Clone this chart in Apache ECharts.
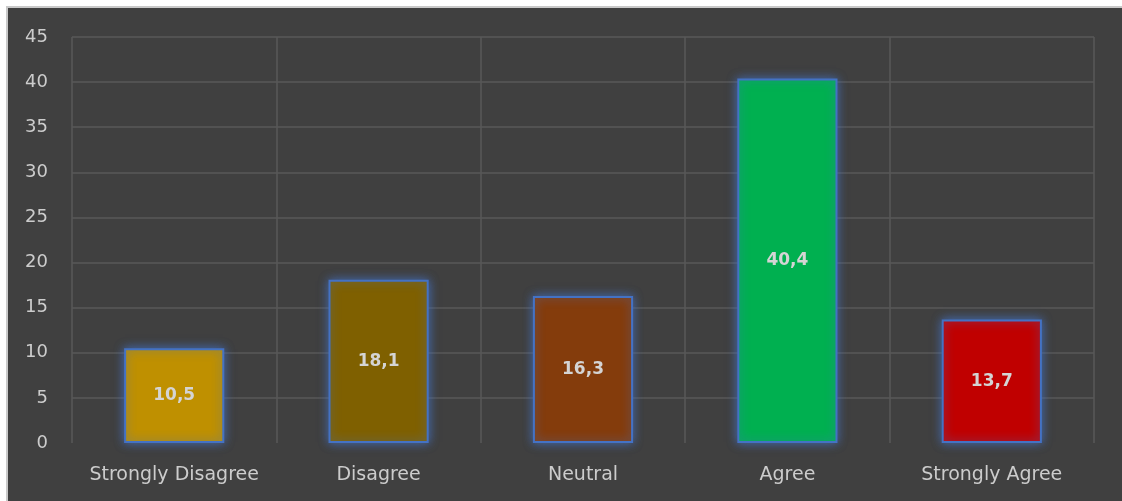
<!DOCTYPE html>
<html>
<head>
<meta charset="utf-8">
<script src="https://cdn.jsdelivr.net/npm/echarts@6/dist/echarts.min.js"></script>
<style>
  html, body { margin: 0; padding: 0; background: #ffffff; width: 1122px; height: 501px; overflow: hidden; }
  #frame {
    position: absolute; left: 6px; top: 6px; width: 1116px; height: 495px;
    background: #c9c9c9;
  }
  #chart {
    position: absolute; left: 8px; top: 8px; width: 1114px; height: 493px;
    background: #404040;
  }
</style>
</head>
<body>
<div id="frame"></div>
<div id="chart"></div>
<script>
// Survey responses, percent per answer
const categories = ['Strongly Disagree', 'Disagree', 'Neutral', 'Agree', 'Strongly Agree'];
const values = [10.5, 18.1, 16.3, 40.4, 13.7];
const barColors = ['#bf9000', '#7f6000', '#843c0c', '#00b050', '#c00000'];
const yTicks = { min: 0, max: 45, interval: 5 };

const font = '"DejaVu Sans", "Liberation Sans", sans-serif';
const gridColor = '#595959';
// no gridline on the zero baseline, gray on every other tick
const tickCount = (yTicks.max - yTicks.min) / yTicks.interval + 1;
const ySplitColors = Array.from({ length: tickCount }, (_, i) => i === 0 ? 'rgba(0,0,0,0)' : gridColor);

const chart = echarts.init(document.getElementById('chart'), null, { renderer: 'canvas' });

chart.setOption({
  animation: false,
  backgroundColor: '#404040',
  grid: { left: 64, right: 28, top: 29, bottom: 58, containLabel: false },
  xAxis: {
    type: 'category',
    data: categories,
    axisLine: { show: false },
    axisTick: { show: false },
    splitLine: { show: true, interval: 0, lineStyle: { color: gridColor, width: 1.5 } },
    axisLabel: { interval: 0, color: '#cccccc', fontSize: 19, fontFamily: font, margin: 23 }
  },
  yAxis: {
    type: 'value',
    min: yTicks.min, max: yTicks.max, interval: yTicks.interval,
    axisLine: { show: false },
    axisTick: { show: false },
    splitLine: { lineStyle: { color: ySplitColors, width: 1.5 } },
    axisLabel: { color: '#cccccc', fontSize: 18, fontFamily: font, margin: 24 }
  },
  series: [{
    type: 'bar',
    barWidth: '49%',
    data: values.map((v, i) => ({
      value: v,
      itemStyle: {
        color: barColors[i],
        borderColor: '#4472c4',
        borderWidth: 2,
        shadowColor: 'rgba(68,114,196,0.85)',
        shadowBlur: 10
      }
    })),
    label: {
      show: true,
      position: 'inside',
      color: '#d4d4d4',
      fontSize: 17,
      fontWeight: 'bold',
      fontFamily: font,
      formatter: p => String(p.value).replace('.', ',')
    }
  }]
});
</script>
</body>
</html>
